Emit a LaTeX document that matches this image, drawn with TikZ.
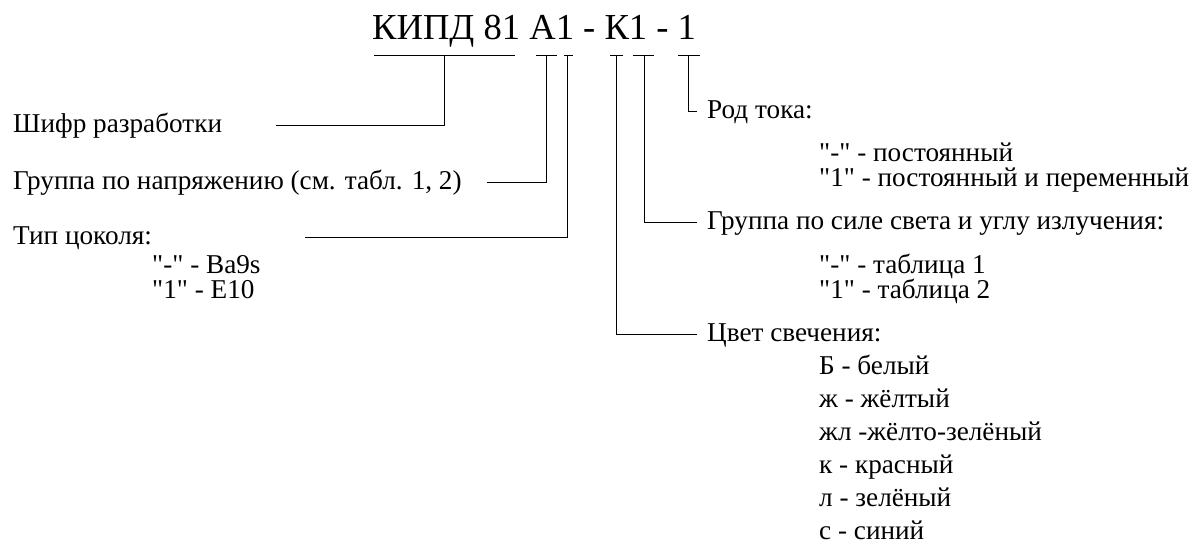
\documentclass[tikz,border=0pt]{standalone}
\usepackage{fontspec}
\setmainfont{Liberation Serif}[Ligatures=TeXOff]
\begin{document}
\begin{tikzpicture}[x=1pt,y=-1pt,
  lbl/.style={anchor=base west,inner sep=0pt,font=\fontsize{27.2}{31}\selectfont},
  ttl/.style={anchor=base west,inner sep=0pt,font=\fontsize{36.6}{40}\selectfont},
  conn/.style={draw=black,line width=0.9pt}]
\useasboundingbox (0,0) rectangle (1197,547);
% title
\node[ttl] (title) at (372,39) {КИПД 81 А1 - К1 - 1};
% top tick coordinates
\coordinate (s1a) at (374,55); \coordinate (s1b) at (515,55); \coordinate (v1) at (444,55);
\coordinate (s2a) at (536,55); \coordinate (s2b) at (557,55); \coordinate (v2) at (546,55);
\coordinate (s3a) at (564,55); \coordinate (s3b) at (573,55); \coordinate (v3) at (567,55);
\coordinate (s4a) at (610,55); \coordinate (s4b) at (623,55); \coordinate (v4) at (616,55);
\coordinate (s5a) at (633,55); \coordinate (s5b) at (654,55); \coordinate (v5) at (644,55);
\coordinate (s6a) at (678,55); \coordinate (s6b) at (700,55); \coordinate (v6) at (688,55);
% left labels
\node[lbl] (shifr) at (13,132) {Шифр разработки};
\node[lbl] (napr) at (13,189) {Группа по напряжению (см. табл. 1, 2)};
\node[lbl] (tip) at (13,244) {Тип цоколя:};
\node[lbl] (tip1) at (152,273) {"-" - Ba9s};
\node[lbl] (tip2) at (152,298) {"1" - E10};
% right labels
\node[lbl] (rod) at (707,118) {Род тока:};
\node[lbl] (rod1) at (819,161) {"-" - постоянный};
\node[lbl] (rod2) at (819,186) {"1" - постоянный и переменный};
\node[lbl] (sila) at (707,229) {Группа по силе света и углу излучения:};
\node[lbl] (sila1) at (819,273) {"-" - таблица 1};
\node[lbl] (sila2) at (819,298) {"1" - таблица 2};
\node[lbl] (cvet) at (707,341) {Цвет свечения:};
\node[lbl] (c1) at (819,374) {Б - белый};
\node[lbl] (c2) at (819,407) {ж - жёлтый};
\node[lbl] (c3) at (819,440) {жл -жёлто-зелёный};
\node[lbl] (c4) at (819,473) {к - красный};
\node[lbl] (c5) at (819,506) {л - зелёный};
\node[lbl] (c6) at (819,539) {с - синий};
% line end coordinates
\coordinate (e1) at (276,125); \coordinate (k1) at (444,125);
\coordinate (e2) at (487,182); \coordinate (k2) at (546,182);
\coordinate (e3) at (305,237); \coordinate (k3) at (567,237);
\coordinate (e4) at (697,334); \coordinate (k4) at (616,334);
\coordinate (e5) at (697,222); \coordinate (k5) at (644,222);
\coordinate (e6) at (697,111); \coordinate (k6) at (688,111);
% connectors
\draw[conn] (s1a) -- (s1b);
\draw[conn] (s2a) -- (s2b);
\draw[conn] (s3a) -- (s3b);
\draw[conn] (s4a) -- (s4b);
\draw[conn] (s5a) -- (s5b);
\draw[conn] (s6a) -- (s6b);
\draw[conn] (v1) -- (k1) -- (e1);
\draw[conn] (v2) -- (k2) -- (e2);
\draw[conn] (v3) -- (k3) -- (e3);
\draw[conn] (v4) -- (k4) -- (e4);
\draw[conn] (v5) -- (k5) -- (e5);
\draw[conn] (v6) -- (k6) -- (e6);
\end{tikzpicture}
\end{document}
